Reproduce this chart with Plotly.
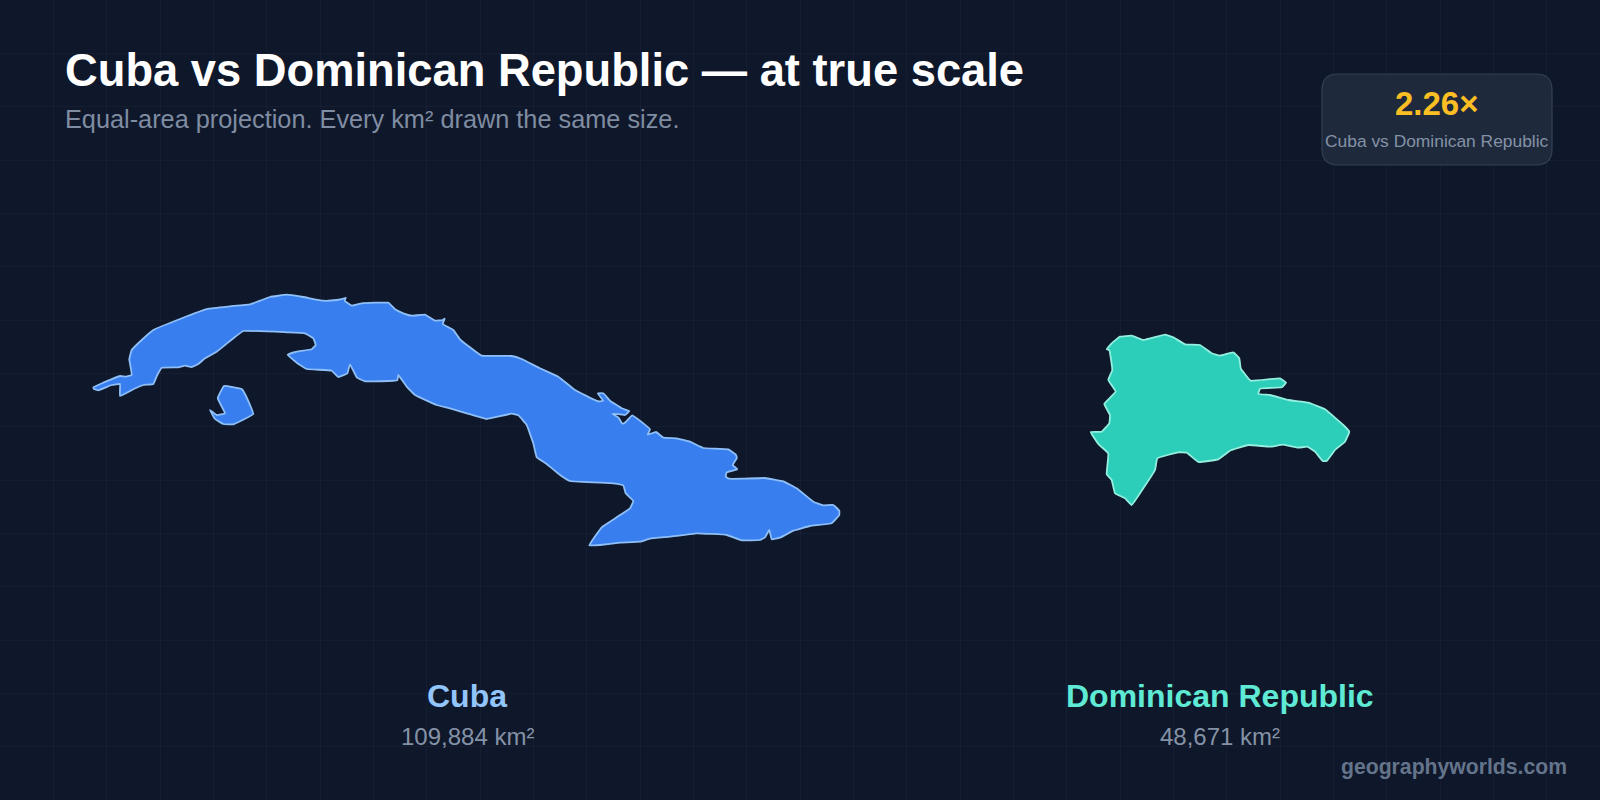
import plotly.graph_objects as go

names = ["Cuba", "Dominican Republic"]
areas = ["109,884 km²", "48,671 km²"]
ratio = "2.26×"
ratio_label = "Cuba vs Dominican Republic"
title = "Cuba vs Dominican Republic — at true scale"
subtitle = "Equal-area projection. Every km² drawn the same size."
credit = "geographyworlds.com"

cuba_x = [93.3,103.3,120,126,131.7,129.3,131.7,141.7,153.3,180,208.3,230,250,260,270,286.7,303.3,323.3,336.7,343.3,345.7,344.7,351.7,361.7,388.3,395,403.3,411.7,425,435,442.7,444.7,442.7,453.3,460,470,481.7,511.7,521.7,540,558.3,575,593.3,599,603.3,597.7,603.3,610,621.7,629.3,625,612.3,618.3,622.3,626,632.3,650,647.7,656,663.3,676.7,690,703.3,728.3,736,736.7,732.7,737.3,726.7,725.7,728.7,743.3,765,783.3,796.7,813.3,823.3,833.3,839.3,839.3,831.7,810,793.3,780,771.7,769.3,765,760,741.7,726.7,696.7,670,650,640,620,600,589.3,601.7,616.7,630,633.3,625.7,623.3,613.3,570,560,546.7,536.7,533.3,526.7,518.3,511.7,486.7,466.7,450,436.7,415,406.7,398.3,397.3,365,356.7,350,347.3,338.3,331.7,306.7,296.7,287.7,296.7,311.7,315.7,313.3,305,286.7,243.3,233.3,216.7,205,198.3,191.7,185,178.3,161.7,157.3,153.3,143.3,133.3,120,120,111.7,98.3,94,93.3]
cuba_y = [387.3,382.7,376,376.7,375,359.3,350,340,330,319,308.7,306.3,304.3,300.7,297,294.7,297,300.7,300,298.7,297.7,300.7,305.7,303.3,302.7,309.3,313.3,315.7,314.7,320.7,320,318.7,324,330,339.3,347.3,355.7,356,359,368.3,376.7,390,399.3,401.3,400.7,393.3,393.3,400.7,408.3,411,415,413.7,417.3,423.7,421.7,415.3,429.3,434.7,432,437.7,438.3,441.7,448,449.3,455,458.3,465,469.3,472.3,476.7,478.7,478.7,478,481.3,488.3,501.7,505.3,505,510.7,515,523.3,526,530.7,537.7,539.3,530,537.3,540,540.3,535,533.3,536.7,538.7,541.7,542.7,545,545.3,527.3,517.3,508.3,501,493.3,485.3,483.3,481,475,464,457.3,443.3,425,415.3,413.7,419,413.3,408.3,405,395,386.7,375,380.3,381.3,377.3,364.3,373.3,377,370.7,369,362.7,354.7,351.7,349.3,345,338.3,333.3,332.3,331,338.3,351.7,358.3,364,367,365.7,367.3,367.7,375,384,385,389.3,396,384,385,390.3,389,387.3]

isle_x = [224,241.7,246,253.3,233.3,223.3,215,210,216.7,225,217.7,224]
isle_y = [386,389,396,414,424.3,424,419,410,415,413.3,398.3,386]

dr_x = [1090.7,1101.7,1109.3,1110,1104.3,1115.7,1108.3,1112.3,1109.3,1106.7,1111.7,1120,1131.7,1143.3,1165,1173.3,1185,1200,1211.7,1220,1233.3,1239.3,1240.7,1250.7,1280,1286,1281.7,1260,1258.3,1270,1288.3,1308.3,1325,1343.3,1349.3,1345,1335,1326.7,1322.7,1315,1307.3,1298.3,1283.3,1270,1248.3,1230,1218.3,1198.3,1186.7,1178.3,1157.3,1155,1143.3,1131.7,1125,1115,1111.7,1106.7,1108.3,1098.3,1090.7]
dr_y = [432,431.7,423.3,415,404,391.7,380,370,350,349.3,343.3,336.7,335.7,340,334.7,337.3,344.3,345,353.3,355.7,352.3,358.3,368.3,380.7,378.3,382.7,387.3,388.7,394,395,400,402.7,409.3,425,431.7,441.7,450,461,461,451.7,446.7,447.7,444.7,446.7,445,450.7,459.3,462,452.7,452.3,458.3,470,488.3,505,498.3,493.3,480,474.3,453.3,444,432]

BG = "#0f172a"
GRID = "rgba(148,163,184,0.05)"
FONT = "Liberation Sans, Arial, Helvetica, sans-serif"

fig = go.Figure()
for xs, ys in [(cuba_x, cuba_y), (isle_x, isle_y)]:
    fig.add_trace(go.Scatter(x=xs, y=ys, mode="lines", fill="toself", fillcolor="#3b82f6",
                             line=dict(color="#93c5fd", width=1.8, shape="spline", smoothing=0.25),
                             opacity=0.97, hoverinfo="skip", showlegend=False))
fig.add_trace(go.Scatter(x=dr_x, y=dr_y, mode="lines", fill="toself", fillcolor="#2dd4bf",
                         line=dict(color="#99f6e4", width=1.8, shape="spline", smoothing=0.25),
                         opacity=0.97, hoverinfo="skip", showlegend=False))

def note(text, x, y, size, color, bold=False, anchor="center"):
    fig.add_annotation(x=x, y=y, xref="x", yref="y", text=f"<b>{text}</b>" if bold else text,
                       showarrow=False, xanchor=anchor, yanchor="middle",
                       font=dict(family=FONT, size=size, color=color), borderpad=0)

fig.add_shape(type="path", xref="x", yref="y", layer="above",
              path="M 1338 74 L 1536 74 Q 1552 74 1552 90 L 1552 149 Q 1552 165 1536 165 "
                   "L 1338 165 Q 1322 165 1322 149 L 1322 90 Q 1322 74 1338 74 Z",
              fillcolor="#1e293b", line=dict(color="#334155", width=1.2))

note(title, 64, 70, 45.3, "#ffffff", bold=True, anchor="left")
note(subtitle, 64, 119, 25.3, "#7f8ca1", anchor="left")
note(ratio, 1437, 103, 33, "#fbbf24", bold=True)
note(ratio_label, 1437, 141, 17.4, "#8492a6")
note(names[0], 467, 696, 32, "#93c5fd", bold=True)
note(areas[0], 467, 736, 24, "#8492a6")
note(names[1], 1220, 696, 32, "#5eead4", bold=True)
note(areas[1], 1220, 736, 24, "#8492a6")
note(credit, 1568, 767, 21.2, "#64748b", bold=True, anchor="right")

axis = dict(showgrid=True, gridcolor=GRID, gridwidth=1, zeroline=False, showticklabels=False,
            ticks="", showline=False, tick0=0, dtick=160 / 3, fixedrange=True)
fig.update_layout(
    width=1600, height=800, margin=dict(l=0, r=0, t=0, b=0),
    paper_bgcolor=BG, plot_bgcolor=BG, showlegend=False,
    xaxis=dict(range=[0, 1600], **axis),
    yaxis=dict(range=[800, 0], **axis),
)
fig.write_html("out.html", config={"displayModeBar": False},
               post_script="document.body.style.margin='0';document.body.style.background='#0f172a';")
